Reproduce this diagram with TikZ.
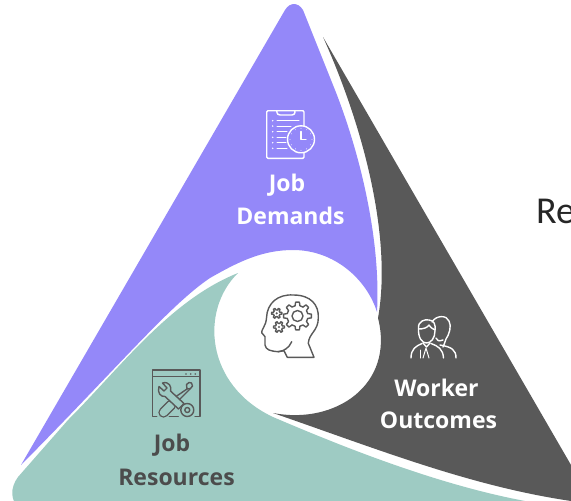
\documentclass[tikz,border=0pt]{standalone}
\usepackage{fontspec}
\setmainfont{Open Sans}
\newfontfamily\refont{Carlito}
\definecolor{pur}{HTML}{9488F9}
\definecolor{tea}{HTML}{9ECBC3}
\definecolor{drk}{HTML}{595959}
\newcommand{\gearicon}[5]{% x y rinner router teeth
  \foreach \k in {1,...,#5}{
    \pgfmathsetmacro{\st}{360/#5}
    \pgfmathsetmacro{\aa}{\k*\st-0.30*\st}
    \pgfmathsetmacro{\ab}{\k*\st-0.17*\st}
    \pgfmathsetmacro{\ac}{\k*\st+0.17*\st}
    \pgfmathsetmacro{\ad}{\k*\st+0.30*\st}
    \pgfmathsetmacro{\ae}{\k*\st+0.70*\st}
    \draw[grayicon] ([shift={(\aa:#3)}]#1,#2) -- ([shift={(\ab:#4)}]#1,#2) -- ([shift={(\ac:#4)}]#1,#2) -- ([shift={(\ad:#3)}]#1,#2) -- ([shift={(\ae:#3)}]#1,#2);
  }}
\tikzset{
  x=1pt,y=-1pt,
  iconline/.style={line width=1.4pt,line cap=round,line join=round},
  grayicon/.style={iconline,draw=drk},
  whiteicon/.style={iconline,draw=white},
  label/.style={font=\bfseries\fontsize{23}{23}\selectfont,inner sep=0pt,anchor=center},
}
\begin{document}
\begin{tikzpicture}
\useasboundingbox (0,0) rectangle (571,501);
\clip (0,0) rectangle (571,501);
% purple
\fill[pur] (21,465) -- (285,10) .. controls (290,2) and (298,2) .. (303,10)
  -- (331,80) .. controls (360,150) and (381,240) .. (377,312)
  .. controls (367,280) and (335,250) .. (293,250)
  .. controls (262,250) and (238,262) .. (210,278)
  .. controls (170,305) and (120,365) .. (21,465) -- cycle;
% dark
\fill[drk] (323,37) -- (600,515) -- (571,501)
  .. controls (470,486) and (380,450) .. (273,413)
  .. controls (335,425) and (395,385) .. (378,318)
  .. controls (392,240) and (365,130) .. (323,37) -- cycle;
% teal
\fill[tea] (18,477) -- (68,420) .. controls (120,368) and (170,300) .. (238,273)
  .. controls (200,310) and (205,385) .. (273,417)
  .. controls (350,450) and (440,485) .. (525,501) -- (522,510) -- (20,510)
  .. controls (10,500) and (10,488) .. (18,477) -- cycle;
% head icon
\draw[grayicon] (314,357.3) -- (308.3,343.3) .. controls (309,333) and (318.3,331) .. (318.3,318)
  .. controls (319,305) and (311,295) .. (293.3,295)
  .. controls (278,294) and (267,303) .. (266.5,318)
  .. controls (266,326) and (261,330) .. (261.7,332.7) -- (265,336.7) -- (265,345)
  .. controls (266,350) and (270,351) .. (278.3,351.7) -- (284,350.7) -- (287.3,357.3) -- cycle;
\draw[grayicon] (278.3,351.7) .. controls (284,351) and (289,348) .. (291.7,341.7);
\gearicon{297.5}{316}{10.5}{14}{8}
\draw[grayicon] (297.5,316) circle[radius=5.5];
\gearicon{276.7}{313.3}{3.4}{5.2}{6}
\gearicon{279}{327}{3.6}{5.6}{6}
\fill[drk] (276.7,313.3) circle[radius=1.2];
\fill[drk] (279,327) circle[radius=1.2];
% clipboard icon
\draw[whiteicon] (268,110.7) -- (303,110.7) -- (304,112) -- (304,157) -- (303,158.3) -- (268,158.3) -- (266.7,157) -- (266.7,112) -- cycle;
\draw[whiteicon] (276.7,110.7) .. controls (277,114) and (278,115) .. (280,115) -- (292,115) .. controls (294,115) and (295,114) .. (295,110.7);
\foreach \yy/\xe in {120.7/299,126/291,131.7/287,137.3/286,142.7/286,148.3/287}{
  \draw[whiteicon,line width=1pt] (277,\yy) -- (\xe,\yy);
  \fill[white] (272.7,\yy) circle[radius=0.8];
}
\fill[pur] (301,139.3) circle[radius=13.5];
\draw[whiteicon] (301,139.3) circle[radius=13.5];
\draw[whiteicon] (301,131.5) -- (301,139.3) -- (306,139.3);
\foreach \a in {0,30,...,330}{\fill[white] ([shift={(\a:11)}]301,139.3) circle[radius=0.45];}
% tools icon
\draw[grayicon] (156.7,416.7) -- (152.7,416.7) -- (152.7,370) -- (200,370) -- (200,416.7) -- (195,416.7);
\draw[grayicon] (169.3,416.7) -- (178.3,416.7);
\draw[grayicon] (152.7,376.7) -- (200,376.7);
\foreach \xx in {186,190.7,195.3}{\fill[drk] (\xx,374) circle[radius=0.9];}
% screwdriver
\draw[grayicon] (187,389) -- (186.5,384.5) -- (189,382.5) -- (191.5,383) -- (192.5,386) -- (190.5,388.5) -- cycle;
\draw[grayicon] (187,389) -- (168,402);
\draw[grayicon] (190.5,388.5) -- (173,406);
\draw[drk,line width=10.4pt,line cap=round] (171,405) -- (163.5,412.5);
\draw[tea,line width=7.6pt,line cap=round] (171,405) -- (163.5,412.5);
% wrench
\filldraw[grayicon,fill=tea] (178.5,409) -- (165,396.5) .. controls (160.5,397) and (157,392.5) .. (159,386.5)
  -- (164,391) -- (167,388) -- (162.5,383) .. controls (169,381) and (172,387) .. (170.5,391) -- (184,403.5) -- cycle;
\filldraw[grayicon,fill=tea] (187.3,410) circle[radius=6.5];
\draw[grayicon] (187.3,410) circle[radius=2.5];
% people icon
\draw[whiteicon] (432,322) .. controls (436,315) and (447,315) .. (449,321) .. controls (452,326) and (449,335) .. (446,339) .. controls (445,342) and (444,345) .. (443,347);
\draw[whiteicon] (443,340) .. controls (438,342) and (437,340) .. (436,338);
\draw[whiteicon] (440,345) .. controls (452,347) and (456,350) .. (456,358);
\draw[whiteicon] (418.5,328) .. controls (418,321) and (425,319) .. (429,320) .. controls (434,320) and (436,325) .. (435,331)
  .. controls (435,338) and (431,343) .. (426.5,343) .. controls (422,343) and (418,338) .. (418.5,328) -- cycle;
\draw[whiteicon] (418.5,329) .. controls (423,329) and (427,328) .. (429,325) .. controls (431,328) and (433,329) .. (435,330);
\draw[whiteicon] (411,358) .. controls (411,349) and (416,346) .. (422,343.5);
\draw[whiteicon] (431,343.5) .. controls (438,346) and (443,349) .. (443.5,358);
\draw[whiteicon] (423,343) -- (426.5,347) -- (430,343);
\draw[whiteicon,line width=1pt] (423,358) -- (426,348) -- (429,358);
\draw[whiteicon,line width=1pt] (420,358) -- (420,350);
% labels
\node[label,text=white] (jd1) at (287,185.5) {Job};
\node[label,text=white] (jd2) at (290.5,216) {Demands};
\node[label,text=white] (wo1) at (436.5,388) {Worker};
\node[label,text=white] (wo2) at (438.5,420) {Outcomes};
\node[label,text=drk!85!black] (jr1) at (172,445.5) {Job};
\node[label,text=drk!85!black] (jr2) at (176.5,477) {Resources};
\node[font=\refont\fontsize{38}{38}\selectfont,text=black!85,anchor=base west,inner sep=0pt] (re) at (536,223) {Re};
\end{tikzpicture}
\end{document}
